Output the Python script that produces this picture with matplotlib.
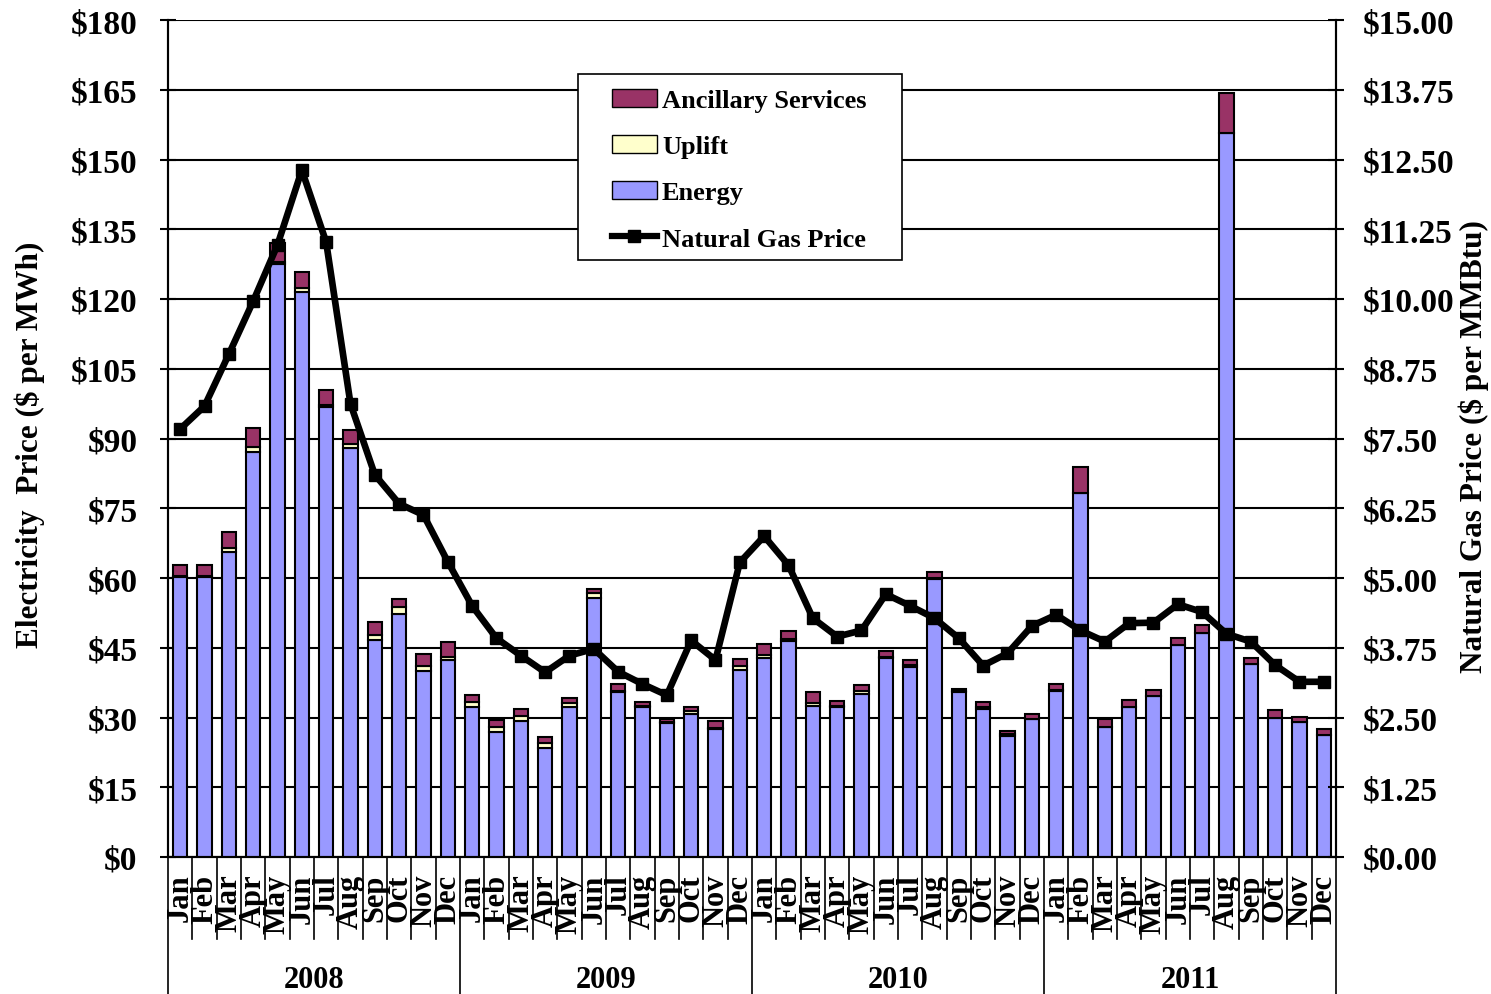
import matplotlib
matplotlib.use('Agg')
import matplotlib.pyplot as plt
import matplotlib.transforms as mtransforms
from matplotlib.patches import Patch, Rectangle
from matplotlib.lines import Line2D
import numpy as np

plt.rcParams['font.family'] = ['Liberation Serif', 'DejaVu Serif']
plt.rcParams['font.weight'] = 'bold'

years = ['2008', '2009', '2010', '2011']
months = ['Jan', 'Feb', 'Mar', 'Apr', 'May', 'Jun',
          'Jul', 'Aug', 'Sep', 'Oct', 'Nov', 'Dec']

# $ per MWh, stacked
energy = [60.2, 60.2, 65.6, 87.0, 127.5, 121.4, 96.7, 88.0, 46.7, 52.3, 40.0, 42.4,
          32.2, 26.8, 29.3, 23.4, 32.2, 55.7, 35.4, 32.2, 28.9, 30.8, 27.5, 40.3,
          42.9, 46.5, 32.5, 32.2, 35.0, 42.7, 40.9, 59.8, 35.4, 31.8, 26.1, 29.7,
          35.8, 78.3, 27.9, 32.2, 34.7, 45.6, 48.2, 155.8, 41.5, 29.9, 29.0, 26.3]
uplift = [0.3, 0.3, 0.9, 1.1, 0.5, 0.9, 0.6, 0.9, 1.0, 1.4, 1.0, 0.6,
          1.1, 1.1, 1.1, 1.1, 0.9, 1.0, 0.3, 0.2, 0.2, 0.7, 0.3, 0.7,
          0.6, 0.3, 0.7, 0.3, 0.7, 0.3, 0.3, 0.1, 0.3, 0.4, 0.4, 0.0,
          0.1, 0.0, 0.0, 0.0, 0.0, 0.0, 0.0, 0.0, 0.0, 0.0, 0.0, 0.0]
ancillary = [2.3, 2.3, 3.5, 4.1, 4.0, 3.6, 3.1, 3.0, 2.8, 1.8, 2.7, 3.2,
             1.6, 1.6, 1.4, 1.2, 1.0, 0.9, 1.4, 1.0, 0.6, 0.8, 1.5, 1.6,
             2.2, 1.7, 2.2, 1.1, 1.2, 1.2, 1.2, 1.4, 0.5, 1.2, 0.7, 1.1,
             1.4, 5.5, 1.8, 1.6, 1.2, 1.5, 1.7, 8.6, 1.3, 1.7, 1.2, 1.2]
# $ per MMBtu
gas = [7.67, 8.08, 9.01, 9.96, 10.97, 12.31, 11.02, 8.12, 6.85, 6.33, 6.13, 5.29,
       4.50, 3.92, 3.61, 3.31, 3.61, 3.73, 3.32, 3.10, 2.90, 3.88, 3.53, 5.28,
       5.75, 5.23, 4.28, 3.95, 4.06, 4.71, 4.50, 4.28, 3.92, 3.43, 3.65, 4.14,
       4.34, 4.06, 3.86, 4.19, 4.20, 4.53, 4.39, 4.00, 3.86, 3.44, 3.14, 3.14]

c_energy = '#9999FF'
c_uplift = '#FFFFCC'
c_anc = '#993366'

n = len(energy)
x = np.arange(n)
energy = np.array(energy)
uplift = np.array(uplift)
ancillary = np.array(ancillary)

fig = plt.figure(figsize=(14.91, 9.95), dpi=100)
ax = fig.add_axes([168 / 1491, (995 - 858) / 995, 1168 / 1491, 837 / 995])

w = 0.58
ax.bar(x, energy, w, color=c_energy, edgecolor='black', linewidth=1.5, zorder=3)
ax.bar(x, uplift, w, bottom=energy, color=c_uplift, edgecolor='black', linewidth=1.5, zorder=3)
ax.bar(x, ancillary, w, bottom=energy + uplift, color=c_anc, edgecolor='black', linewidth=1.5, zorder=3)

ax.set_xlim(-0.5, n - 0.5)
ax.set_ylim(0, 180)
ax.set_yticks(np.arange(0, 181, 15))
ax.set_yticklabels(['$%d' % v for v in np.arange(0, 181, 15)], fontsize=24)
ax.yaxis.grid(True, color='black', linewidth=1.5, zorder=0)
ax.set_axisbelow(True)
ax.tick_params(axis='y', direction='inout', length=12, width=1.5, pad=16)
for s in ax.spines.values():
    s.set_linewidth(1.5)
ax.spines['top'].set_visible(False)

# month labels and separators below the axis
ax.set_xticks(x)
ax.set_xticklabels(months * len(years), rotation=90, fontsize=22, va='top')
ax.tick_params(axis='x', length=0, pad=12)
trans = mtransforms.blended_transform_factory(ax.transData, ax.transAxes)
for i in range(n + 1):
    low = -0.164 if i % 12 == 0 else -0.098
    ax.plot([i - 0.5, i - 0.5], [0, low], color='black', linewidth=1.2,
            transform=trans, clip_on=False)
for k, yr in enumerate(years):
    ax.text(k * 12 + 5.5, -0.146, yr, transform=trans, ha='center', va='center',
            fontsize=22)

ax2 = ax.twinx()
ax2.set_ylim(0, 15)
gt = np.arange(0, 15.01, 1.25)
ax2.set_yticks(gt)
ax2.set_yticklabels(['$%.2f' % v for v in gt], fontsize=24)
ax2.tick_params(axis='y', direction='inout', length=12, width=1.5, pad=13)
ax2.spines['top'].set_visible(False)
for s in ax2.spines.values():
    s.set_linewidth(1.5)
ax2.plot(x, gas, color='black', linewidth=4.8, marker='s', markersize=9, zorder=5)

# axis titles
fig.text(30 / 1491, 1 - 445 / 995, 'Electricity  Price ($ per MWh)', rotation=90,
         ha='center', va='center', fontsize=22.5)
fig.text(1474 / 1491, 1 - 447 / 995, 'Natural Gas Price ($ per MMBtu)', rotation=90,
         ha='center', va='center', fontsize=22.5)

# legend box
ax2.add_patch(Rectangle((0.351, 0.713), 0.277, 0.222, transform=ax2.transAxes,
                        facecolor='white', edgecolor='black', linewidth=1.2, zorder=9))
handles = [Patch(facecolor=c_anc, edgecolor='black', label='Ancillary Services'),
           Patch(facecolor=c_uplift, edgecolor='black', label='Uplift'),
           Patch(facecolor=c_energy, edgecolor='black', label='Energy'),
           Line2D([0], [0], color='black', linewidth=4.5, marker='s', markersize=8,
                  label='Natural Gas Price')]
leg = ax2.legend(handles=handles, loc='upper left', bbox_to_anchor=(0.380, 0.918),
                 fontsize=19, frameon=False, handlelength=1.7, handletextpad=0.2,
                 labelspacing=0.86, borderpad=0, borderaxespad=0)
leg.set_zorder(10)

fig.savefig('out.png', dpi=100)
